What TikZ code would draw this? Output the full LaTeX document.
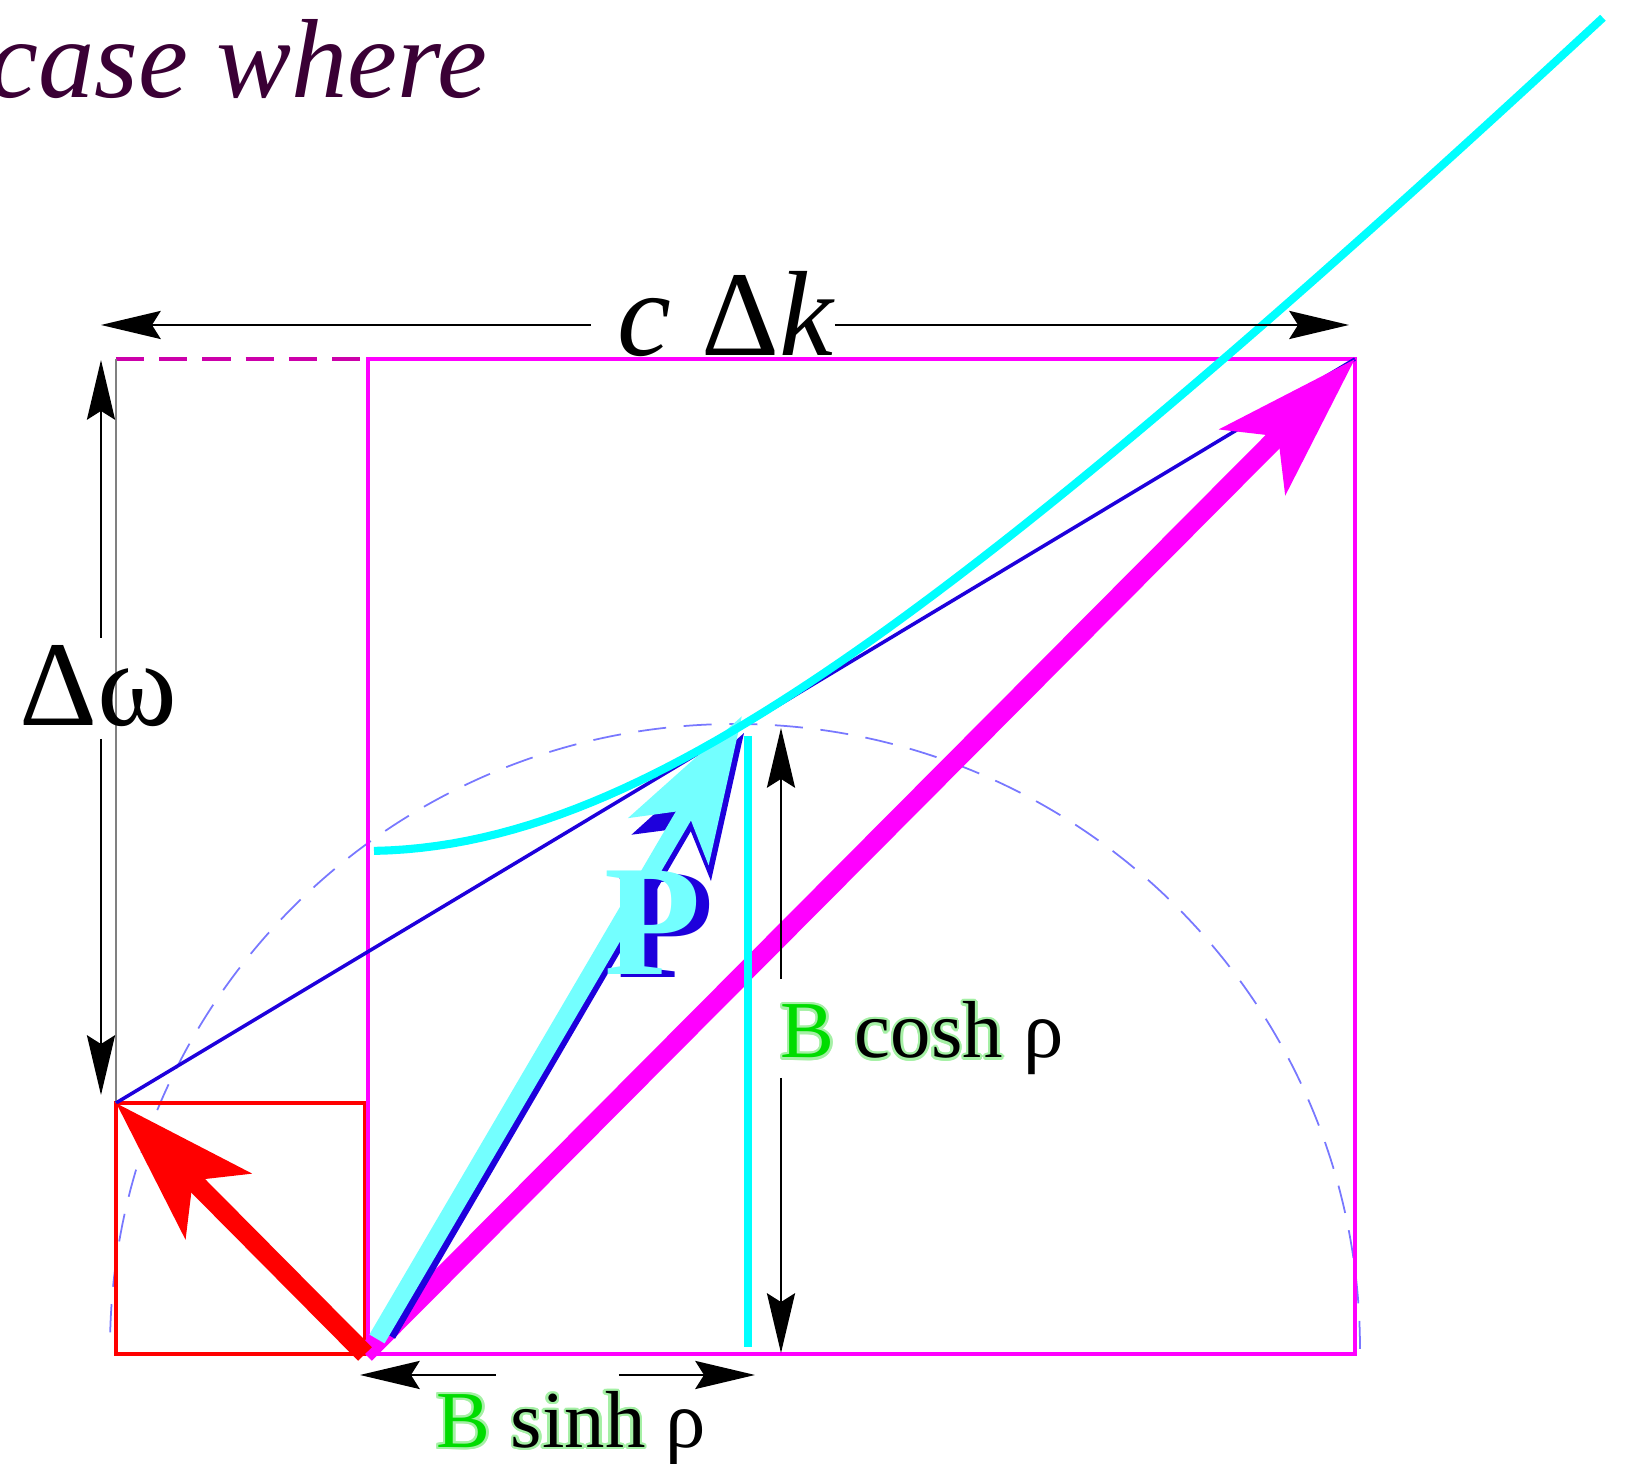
\documentclass[tikz,border=0pt]{standalone}
\usepackage{fontspec}
\setmainfont{Liberation Serif}
\usepackage[copies]{contour}
\usepackage{tikz}
\usetikzlibrary{arrows.meta,positioning,calc}

\definecolor{titlepurple}{RGB}{58,0,53}
\definecolor{vecblue}{RGB}{30,0,220}
\definecolor{vecred}{RGB}{255,0,0}
\definecolor{vecmag}{RGB}{255,0,255}
\definecolor{hypcyan}{RGB}{0,255,255}
\definecolor{lightcyan}{RGB}{115,255,255}
\definecolor{circblue}{RGB}{120,120,255}
\definecolor{dashmag}{RGB}{204,0,170}
\definecolor{labgreen}{RGB}{0,220,0}
\definecolor{glowgreen}{RGB}{165,240,165}
\contourlength{0.7pt}

\begin{document}
\begin{tikzpicture}[
        box/.style={line width=1pt},
        vec/.style={-{Stealth[length=41pt,width=26pt,inset=10pt]}, line width=5.5pt},
        dim/.style={-{Stealth[length=17pt,width=8pt,inset=2.5pt]}, line width=0.6pt, black},
        bigfont/.style={font=\fontsize{34.5}{40}\selectfont, inner sep=0pt},
        labfont/.style={font=\fontsize{23}{28}\selectfont, inner sep=0pt},
        pfont/.style={font=\fontsize{45}{52}\selectfont\bfseries, inner sep=0pt}
    ]
    \useasboundingbox (-3.65,-1.10) rectangle (12.62,13.54);

    % main points
    \coordinate (O) at (0,0);
    \coordinate (A) at (-2.49,2.51);
    \coordinate (C) at (9.90,9.95);
    \coordinate (Ptip) at (3.79,6.21);
    \coordinate (Pcyan) at (3.77,6.38);

    % dashed half circle
    \draw[circblue, line width=0.5pt, dash pattern=on 8pt off 5pt]
        (9.95,0.05) arc[start angle=0, end angle=180, radius=6.25];

    % boxes
    \draw[vecred, box] (O) rectangle (A);
    \draw[vecmag, box] (0.03,0) rectangle (C);
    \coordinate (dtop) at (-2.49,9.95);
    \draw[dashmag, line width=0.9pt, dash pattern=on 8pt off 4.3pt] (dtop) -- (0.03,9.95);
    \draw[gray, line width=0.5pt] (dtop) -- (A);

    % vectors
    \draw[vecblue, line width=1pt] (A) -- (C);
    \draw[vecmag, vec] (O) -- (C);
    \draw[vecred, vec] (O) -- (A);
    \draw[vecblue, vec, line width=2pt] (0.27,0.17) -- (Ptip);
    \draw[lightcyan, vec, line width=5pt] (0.12,0.15) -- (Pcyan);

    % hyperbola and height
    \draw[hypcyan, line width=2.3pt] plot[domain=0.09:12.38, samples=80] (\x,{sqrt(25.3+\x*\x)});
    \coordinate (vtop) at (3.83,6.18);
    \coordinate (vbot) at (3.83,0.07);
    \draw[hypcyan, line width=2.3pt] (vtop) -- (vbot);

    % P label
    \node[pfont, text=vecblue, anchor=base west] (Pblue) at (2.52,3.76) {P};
    \node[pfont, text=lightcyan, anchor=base west] (Pshadow) at (2.39,3.79) {P};

    % dimension arrows
    \coordinate (kL) at (2.26,10.29);   \coordinate (kLtip) at (-2.64,10.29);
    \coordinate (kR) at (4.70,10.29);   \coordinate (kRtip) at (9.84,10.29);
    \coordinate (wT) at (-2.64,7.16);   \coordinate (wTtip) at (-2.64,9.94);
    \coordinate (wB) at (-2.64,6.15);   \coordinate (wBtip) at (-2.64,2.59);
    \coordinate (chT) at (4.16,3.75);   \coordinate (chTtip) at (4.16,6.26);
    \coordinate (chB) at (4.16,2.76);   \coordinate (chBtip) at (4.16,0.01);
    \coordinate (shL) at (1.31,-0.21);  \coordinate (shLtip) at (-0.05,-0.21);
    \coordinate (shR) at (2.54,-0.21);  \coordinate (shRtip) at (3.90,-0.21);
    \draw[dim] (kL) -- (kLtip);   \draw[dim] (kR) -- (kRtip);
    \draw[dim] (wT) -- (wTtip);   \draw[dim] (wB) -- (wBtip);
    \draw[dim] (chT) -- (chTtip); \draw[dim] (chB) -- (chBtip);
    \draw[dim] (shL) -- (shLtip); \draw[dim] (shR) -- (shRtip);

    % labels
    \node[font=\fontsize{32}{38}\selectfont\itshape, text=titlepurple, inner sep=0pt,
          anchor=base east] (title) at (1.23,12.56) {case where};
    \node[bigfont, anchor=base] (dw) at (-2.67,6.28) {Δω};
    \node[bigfont, anchor=base] (cdk) at (3.60,9.98) {\itshape c\upshape\ Δ\itshape k};
    \node[labfont, anchor=base west] (cosh) at (4.15,2.96)
        {\contour{glowgreen}{\textcolor{labgreen}{B}} \contour{glowgreen}{cosh} ρ};
    \node[labfont, anchor=base west] (sinh) at (0.71,-0.935)
        {\contour{glowgreen}{\textcolor{labgreen}{B}} \contour{glowgreen}{sinh} ρ};
\end{tikzpicture}
\end{document}
